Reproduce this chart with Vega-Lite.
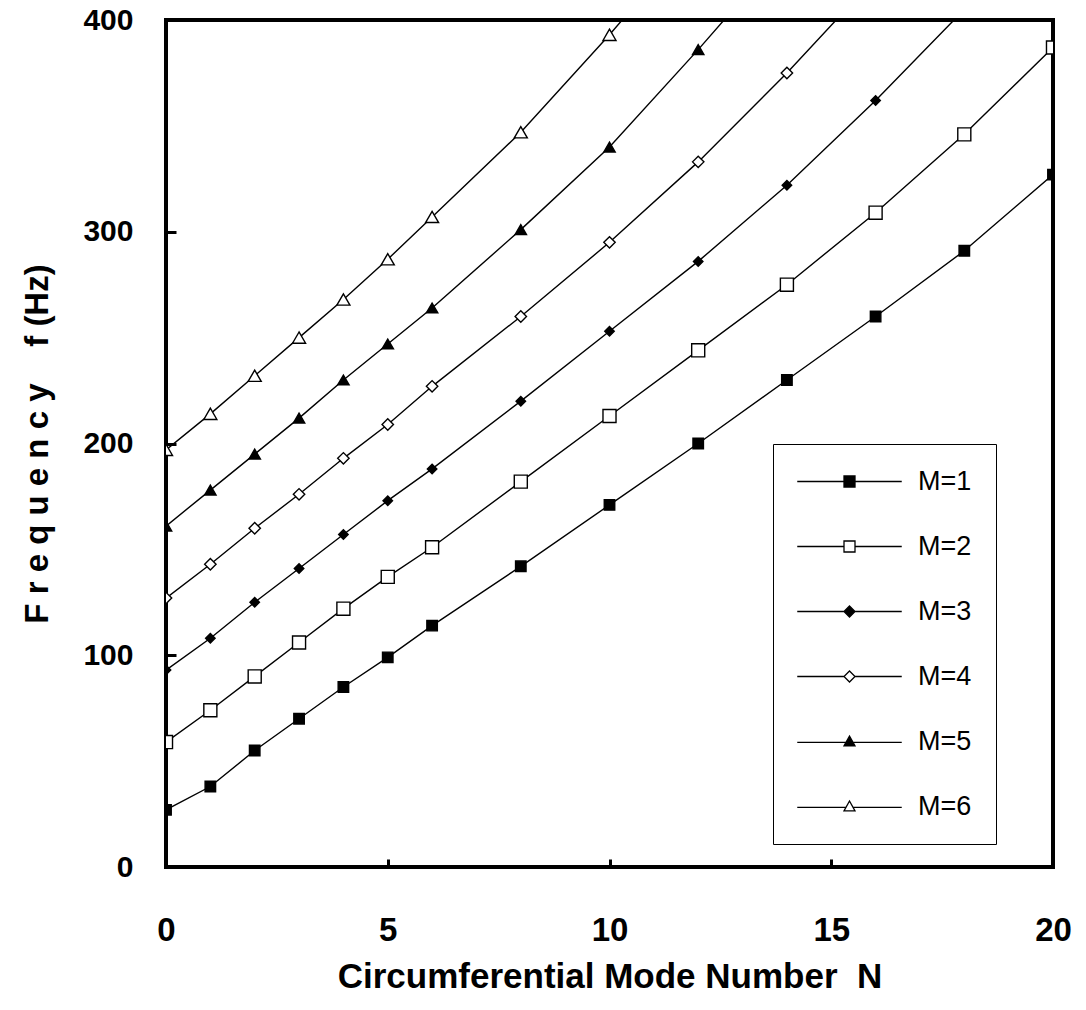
{
  "$schema": "https://vega.github.io/schema/vega-lite/v6.json",
  "width": 887,
  "height": 847,
  "autosize": {"type": "none"},
  "padding": {"left": 166, "top": 20, "right": 33, "bottom": 143},
  "background": "white",
  "config": {
    "view": {"stroke": "black", "strokeWidth": 4},
    "axis": {"grid": false, "domain": false, "tickColor": "black", "labelColor": "black", "titleColor": "black"},
    "legend": {
      "title": null, "orient": "none", "legendX": 607, "legendY": 424,
      "fillColor": "white", "strokeColor": "black", "padding": 24, "rowPadding": 37,
      "labelFont": "Liberation Sans", "labelFontSize": 27, "labelColor": "black",
      "symbolSize": 121, "symbolOffset": 39, "labelOffset": 55,
      "symbolStrokeWidth": 1.3
    }
  },
  "data": {
    "values": [
      {"M": "M=1", "N": 0, "f": 27}, {"M": "M=1", "N": 1, "f": 38}, {"M": "M=1", "N": 2, "f": 55}, {"M": "M=1", "N": 3, "f": 70},
      {"M": "M=1", "N": 4, "f": 85}, {"M": "M=1", "N": 5, "f": 99}, {"M": "M=1", "N": 6, "f": 114}, {"M": "M=1", "N": 8, "f": 142},
      {"M": "M=1", "N": 10, "f": 171}, {"M": "M=1", "N": 12, "f": 200}, {"M": "M=1", "N": 14, "f": 230}, {"M": "M=1", "N": 16, "f": 260},
      {"M": "M=1", "N": 18, "f": 291}, {"M": "M=1", "N": 20, "f": 327},
      {"M": "M=2", "N": 0, "f": 59}, {"M": "M=2", "N": 1, "f": 74}, {"M": "M=2", "N": 2, "f": 90}, {"M": "M=2", "N": 3, "f": 106},
      {"M": "M=2", "N": 4, "f": 122}, {"M": "M=2", "N": 5, "f": 137}, {"M": "M=2", "N": 6, "f": 151}, {"M": "M=2", "N": 8, "f": 182},
      {"M": "M=2", "N": 10, "f": 213}, {"M": "M=2", "N": 12, "f": 244}, {"M": "M=2", "N": 14, "f": 275}, {"M": "M=2", "N": 16, "f": 309},
      {"M": "M=2", "N": 18, "f": 346}, {"M": "M=2", "N": 20, "f": 387},
      {"M": "M=3", "N": 0, "f": 93}, {"M": "M=3", "N": 1, "f": 108}, {"M": "M=3", "N": 2, "f": 125}, {"M": "M=3", "N": 3, "f": 141},
      {"M": "M=3", "N": 4, "f": 157}, {"M": "M=3", "N": 5, "f": 173}, {"M": "M=3", "N": 6, "f": 188}, {"M": "M=3", "N": 8, "f": 220},
      {"M": "M=3", "N": 10, "f": 253}, {"M": "M=3", "N": 12, "f": 286}, {"M": "M=3", "N": 14, "f": 322}, {"M": "M=3", "N": 16, "f": 362},
      {"M": "M=3", "N": 18, "f": 405},
      {"M": "M=4", "N": 0, "f": 127}, {"M": "M=4", "N": 1, "f": 143}, {"M": "M=4", "N": 2, "f": 160}, {"M": "M=4", "N": 3, "f": 176},
      {"M": "M=4", "N": 4, "f": 193}, {"M": "M=4", "N": 5, "f": 209}, {"M": "M=4", "N": 6, "f": 227}, {"M": "M=4", "N": 8, "f": 260},
      {"M": "M=4", "N": 10, "f": 295}, {"M": "M=4", "N": 12, "f": 333}, {"M": "M=4", "N": 14, "f": 375}, {"M": "M=4", "N": 16, "f": 420},
      {"M": "M=5", "N": 0, "f": 161}, {"M": "M=5", "N": 1, "f": 178}, {"M": "M=5", "N": 2, "f": 195}, {"M": "M=5", "N": 3, "f": 212},
      {"M": "M=5", "N": 4, "f": 230}, {"M": "M=5", "N": 5, "f": 247}, {"M": "M=5", "N": 6, "f": 264}, {"M": "M=5", "N": 8, "f": 301},
      {"M": "M=5", "N": 10, "f": 340}, {"M": "M=5", "N": 12, "f": 386}, {"M": "M=5", "N": 14, "f": 434},
      {"M": "M=6", "N": 0, "f": 197}, {"M": "M=6", "N": 1, "f": 214}, {"M": "M=6", "N": 2, "f": 232}, {"M": "M=6", "N": 3, "f": 250},
      {"M": "M=6", "N": 4, "f": 268}, {"M": "M=6", "N": 5, "f": 287}, {"M": "M=6", "N": 6, "f": 307}, {"M": "M=6", "N": 8, "f": 347},
      {"M": "M=6", "N": 10, "f": 393}, {"M": "M=6", "N": 12, "f": 442}
    ]
  },
  "encoding": {
    "x": {
      "field": "N", "type": "quantitative",
      "scale": {"domain": [0, 20], "nice": false},
      "axis": {
        "values": [0, 5, 10, 15, 20], "tickSize": -8, "tickWidth": 3,
        "labelFont": "Liberation Sans", "labelFontWeight": "bold", "labelFontSize": 33, "labelPadding": 55,
        "labelFlush": false, "labelBaseline": "top",
        "title": "Circumferential Mode Number\u00a0\u00a0N",
        "titleFont": "Liberation Sans", "titleFontWeight": "bold", "titleFontSize": 35, "titlePadding": 12
      }
    },
    "y": {
      "field": "f", "type": "quantitative",
      "scale": {"domain": [0, 400], "nice": false},
      "axis": {
        "values": [0, 100, 200, 300, 400], "tickSize": -10, "tickWidth": 3,
        "labelFont": "Liberation Sans", "labelFontWeight": "bold", "labelFontSize": 30, "labelPadding": 43,
        "labelFlush": false,
        "title": "F r e q u e n c y\u00a0\u00a0\u00a0\u00a0f (Hz)",
        "titleFont": "Liberation Sans", "titleFontWeight": "bold", "titleFontSize": 33, "titlePadding": 28
      }
    }
  },
  "layer": [
    {
      "mark": {"type": "line", "color": "black", "strokeWidth": 1.4, "clip": true},
      "encoding": {"detail": {"field": "M"}}
    },
    {
      "transform": [{"filter": "datum.M == 'M=1'"}],
      "mark": {"type": "point", "shape": "square", "size": 110, "filled": true, "fill": "black", "stroke": "black", "strokeWidth": 1.4, "opacity": 1, "clip": true}
    },
    {
      "transform": [{"filter": "datum.M == 'M=2'"}],
      "mark": {"type": "point", "shape": "square", "size": 170, "filled": true, "fill": "white", "stroke": "black", "strokeWidth": 1.4, "opacity": 1, "clip": true}
    },
    {
      "transform": [{"filter": "datum.M == 'M=3'"}],
      "mark": {"type": "point", "shape": "diamond", "size": 90, "filled": true, "fill": "black", "stroke": "black", "strokeWidth": 1.4, "opacity": 1, "clip": true}
    },
    {
      "transform": [{"filter": "datum.M == 'M=4'"}],
      "mark": {"type": "point", "shape": "diamond", "size": 130, "filled": true, "fill": "white", "stroke": "black", "strokeWidth": 1.4, "opacity": 1, "clip": true}
    },
    {
      "transform": [{"filter": "datum.M == 'M=5'"}],
      "mark": {"type": "point", "shape": "triangle-up", "size": 130, "filled": true, "fill": "black", "stroke": "black", "strokeWidth": 1.4, "opacity": 1, "clip": true}
    },
    {
      "transform": [{"filter": "datum.M == 'M=6'"}],
      "mark": {"type": "point", "shape": "triangle-up", "size": 170, "filled": true, "fill": "white", "stroke": "black", "strokeWidth": 1.4, "opacity": 1, "clip": true}
    },
    {
      "transform": [{"filter": "datum.f < 0"}],
      "mark": {"type": "point", "filled": true, "strokeWidth": 1.3, "opacity": 1, "size": 121},
      "encoding": {
        "shape": {
          "field": "M", "type": "nominal",
          "scale": {
            "domain": ["M=1", "M=2", "M=3", "M=4", "M=5", "M=6"],
            "range": [
              "M-9.5,0H-1M1,0H9.5M-1,-1H1V1H-1Z",
              "M-9.5,0H-1M1,0H9.5M-1,-1H1V1H-1Z",
              "M-9.5,0H-1M1,0H9.5M0,-1L1,0L0,1L-1,0Z",
              "M-9.5,0H-1M1,0H9.5M0,-1L1,0L0,1L-1,0Z",
              "M-9.5,0.15H-0.6M0.6,0.15H9.5M0,-1L1,0.8H-1Z",
              "M-9.5,0.15H-0.6M0.6,0.15H9.5M0,-1L1,0.8H-1Z"
            ]
          }
        },
        "fill": {
          "field": "M", "type": "nominal",
          "scale": {"domain": ["M=1", "M=2", "M=3", "M=4", "M=5", "M=6"], "range": ["black", "white", "black", "white", "black", "white"]}
        },
        "stroke": {
          "field": "M", "type": "nominal",
          "scale": {"domain": ["M=1", "M=2", "M=3", "M=4", "M=5", "M=6"], "range": ["black", "black", "black", "black", "black", "black"]}
        }
      }
    }
  ]
}
